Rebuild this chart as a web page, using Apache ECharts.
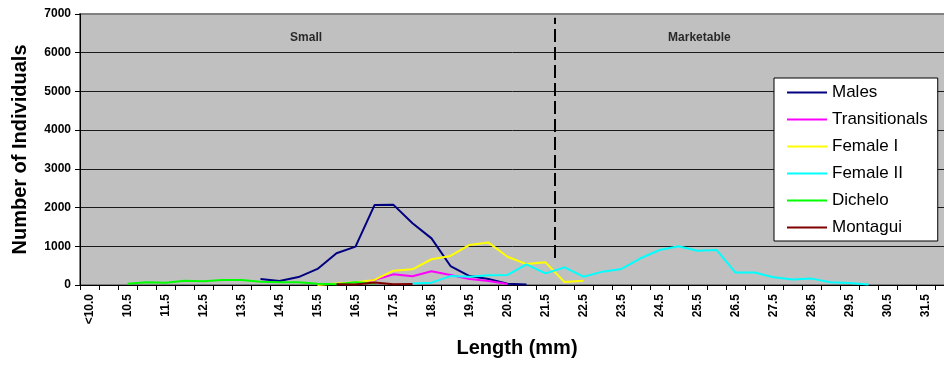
<!DOCTYPE html>
<html>
<head>
<meta charset="utf-8">
<script src="https://cdn.jsdelivr.net/npm/echarts@6/dist/echarts.min.js"></script>
<style>
html,body{margin:0;padding:0;background:#fff;overflow:hidden;}
#chart{width:944px;height:365px;}
</style>
</head>
<body>
<div id="chart"></div>
<script>
var categories = ['<10.0','10.0','10.5','11.0','11.5','12.0','12.5','13.0','13.5','14.0','14.5','15.0','15.5','16.0','16.5','17.0','17.5','18.0','18.5','19.0','19.5','20.0','20.5','21.0','21.5','22.0','22.5','23.0','23.5','24.0','24.5','25.0','25.5','26.0','26.5','27.0','27.5','28.0','28.5','29.0','29.5','30.0','30.5','31.0','31.5','32.0'];

var males = [null,null,null,null,null,null,null,null,null,155,105,205,415,820,990,2065,2070,1595,1205,490,230,155,30,15,null,null,null,null,null,null,null,null,null,null,null,null,null,null,null,null,null,null,null,null,null,null];
var transitionals = [null,null,null,null,null,null,null,null,null,null,null,null,null,null,30,130,275,225,355,260,155,105,25,null,null,null,null,null,null,null,null,null,null,null,null,null,null,null,null,null,null,null,null,null,null,null];
var femaleI = [null,null,null,null,null,null,null,null,null,null,null,null,0,40,70,130,370,405,665,750,1035,1095,730,540,585,75,110,null,null,null,null,null,null,null,null,null,null,null,null,null,null,null,null,null,null,null];
var femaleII = [null,null,null,null,null,null,null,null,null,null,null,null,null,null,null,null,null,40,60,230,215,250,260,535,300,455,215,345,415,690,905,1000,885,905,320,325,200,140,165,70,50,10,null,null,null,null];
var dichelo = [null,null,35,70,60,110,95,130,130,85,70,70,35,20,70,40,null,null,null,null,null,null,null,null,null,null,null,null,null,null,null,null,null,null,null,null,null,null,null,null,null,null,null,null,null,null];
var montagui = [null,null,null,null,null,null,null,null,null,null,null,null,null,20,15,65,20,25,null,null,null,null,null,null,null,null,null,null,null,null,null,null,null,null,null,null,null,null,null,null,null,null,null,null,null,null];

var seriesNames = ['Males','Transitionals','Female I','Female II','Dichelo','Montagui'];
var seriesData = [males, transitionals, femaleI, femaleII, dichelo, montagui];
var seriesColors = ['#000080','#FF00FF','#FFFF00','#00FFFF','#00FF00','#800000'];

var zoneNames = ['Small','Marketable'];
var yTicks = [0,1000,2000,3000,4000,5000,6000,7000];

var FONT = '"Liberation Sans", Arial, sans-serif';
var chart = echarts.init(document.getElementById('chart'), null, {renderer:'canvas'});

var series = seriesNames.map(function(n,i){
  return {
    name:n, type:'line', data:seriesData[i], xAxisIndex:0, yAxisIndex:0,
    symbol:'none', showSymbol:false, connectNulls:false,
    lineStyle:{color:seriesColors[i], width:2}, itemStyle:{color:seriesColors[i]},
    emphasis:{disabled:true}, animation:false, z:3+i
  };
});

// dashed separator at the boundary between the 21.5 and 22.0 classes (position 25 on the continuous helper axis)
series.push({
  name:'sep', type:'line', xAxisIndex:1, yAxisIndex:0,
  data:[[25,700],[25,6900]], symbol:'none',
  lineStyle:{color:'#000', width:2, type:[13,5]}, animation:false, silent:true, z:2
});
// zone labels
series.push({
  name:'zones', type:'scatter', xAxisIndex:1, yAxisIndex:0, symbolSize:0,
  data:[[11.9,6400,zoneNames[0]],[32.6,6400,zoneNames[1]]],
  label:{show:true, position:'inside', formatter:function(p){return p.data[2];},
    fontFamily:FONT, fontWeight:'bold', fontSize:12, color:'#000'},
  animation:false, silent:true, z:2
});

var option = {
  animation:false,
  textStyle:{fontFamily:FONT},
  grid:{left:80, right:-10, top:14, bottom:80, outerBoundsMode:'none', show:true, backgroundColor:'#C0C0C0', borderColor:'#808080', borderWidth:2, containLabel:false},
  legend:{
    data:seriesNames, orient:'vertical', left:774, top:78,
    padding:[6,10,5,13], itemGap:10, itemWidth:40, itemHeight:2, icon:'rect',
    backgroundColor:'#fff', borderColor:'#000', borderWidth:1, borderRadius:0,
    textStyle:{fontFamily:FONT, fontSize:17, color:'#000'}, selectedMode:false
  },
  xAxis:[{
    type:'category', data:categories, boundaryGap:true, position:'bottom',
    name:'Length (mm)', nameLocation:'middle', nameGap:53,
    nameTextStyle:{fontFamily:FONT, fontWeight:'bold', fontSize:20, color:'#000'},
    axisLine:{show:true, lineStyle:{color:'#000', width:1}},
    axisTick:{show:true, interval:0, length:5, lineStyle:{color:'#000'}},
    axisLabel:{interval:1, rotate:90, margin:9, fontFamily:FONT, fontWeight:'bold', fontSize:12, color:'#000'},
    splitLine:{show:false}
  },{
    type:'value', min:0, max:46, show:false
  }],
  yAxis:[{
    type:'value', min:0, max:7000, interval:1000,
    name:'Number of Individuals', nameLocation:'middle', nameGap:50,
    nameTextStyle:{fontFamily:FONT, fontWeight:'bold', fontSize:20, color:'#000'},
    axisLine:{show:true, lineStyle:{color:'#000', width:1}},
    axisTick:{show:true, length:5, lineStyle:{color:'#000'}},
    axisLabel:{margin:9, fontFamily:FONT, fontWeight:'bold', fontSize:12, color:'#000',
      formatter:function(v){ return yTicks.indexOf(v) >= 0 ? String(v) : ''; }},
    splitLine:{show:true, showMaxLine:false, lineStyle:{color:'#1a1a1a', width:1}}
  }],
  series:series
};
chart.setOption(option);
</script>
</body>
</html>
